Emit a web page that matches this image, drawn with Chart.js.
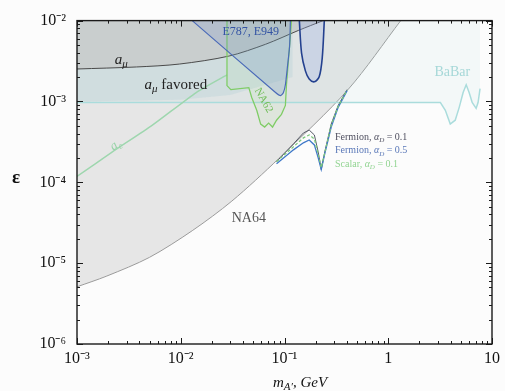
<!DOCTYPE html>
<html lang="en">
<head>
  <meta charset="UTF-8" />
  <title>A' limits</title>
  <script src="https://cdn.jsdelivr.net/npm/chart.js@4.4.1/dist/chart.umd.min.js"></script>
  <style>
    body { margin: 0; background: #fcfcfc; }
  </style>
</head>
<body>
  <canvas id="limits" width="505" height="391"></canvas>

  <script>
    // m_A' in GeV, epsilon dimensionless
    const xTickValues = [0.001, 0.01, 0.1, 1, 10];
    const xTickLabels = ["10⁻³", "10⁻²", "10⁻¹", "1", "10"];
    const yTickValues = [1e-6, 1e-5, 1e-4, 1e-3, 1e-2];
    const yTickLabels = ["10⁻⁶", "10⁻⁵", "10⁻⁴", "10⁻³", "10⁻²"];

    const na64Mass = [0.001, 0.00194, 0.005, 0.0129, 0.0311, 0.0877, 0.409, 1.32];
    const na64Eps = [5.1e-6, 6.93e-6, 1.18e-5, 2.52e-5, 5.86e-5, 1.96e-4, 1.4e-3, 1e-2];

    const amuMass = [0.001, 0.00375, 0.00968, 0.0291, 0.0658, 0.136, 0.236];
    const amuEps = [2.52e-3, 2.67e-3, 2.9e-3, 3.64e-3, 5.1e-3, 7.55e-3, 1e-2];

    const favoredMass = [0.001, 0.01, 0.03, 0.12];
    const favoredEps = [1.0e-3, 1.05e-3, 1.2e-3, 2.0e-3];

    const aeMass = [0.001, 0.00221, 0.00533, 0.0141, 0.0279];
    const aeEps = [1.18e-4, 2.39e-4, 5.09e-4, 1.29e-3, 2.13e-3];

    const babarMass = [0.001, 0.5, 3.18, 3.55, 3.96, 4.42, 4.83, 5.27, 5.64, 6.02, 6.44, 7.03, 7.34, 7.67];
    const babarEps = [9.7e-4, 9.7e-4, 9.7e-4, 7.77e-4, 5.25e-4, 5.86e-4, 8.45e-4, 1.29e-3, 1.61e-3, 1.29e-3, 9.7e-4, 8.22e-4, 9.7e-4, 1.44e-3];

    const e787Mass = [0.0129, 0.082, 0.0916, 0.0977, 0.102, 0.107, 0.112, 0.114];
    const e787Eps = [1e-2, 1.29e-3, 1.18e-3, 1.29e-3, 1.61e-3, 2.75e-3, 4.82e-3, 1e-2];

    const e949Mass = [0.139, 0.146, 0.159, 0.173, 0.194, 0.216, 0.231, 0.242];
    const e949Eps = [1e-2, 3.96e-3, 2.39e-3, 1.9e-3, 1.75e-3, 2.02e-3, 3.44e-3, 1e-2];

    const na62Mass = [0.0279, 0.0279, 0.0304, 0.0453, 0.0483, 0.054, 0.0589, 0.0644, 0.0703, 0.0767, 0.0838, 0.0935, 0.102, 0.1045, 0.109, 0.114, 0.1167];
    const na62Eps = [1e-2, 1.57e-3, 1.4e-3, 1.48e-3, 1.12e-3, 7.77e-4, 5.24e-4, 4.82e-4, 5.39e-4, 4.82e-4, 5.86e-4, 6.93e-4, 8.93e-4, 1.61e-3, 3.16e-3, 6.56e-3, 1e-2];

    const darkMass = [0.0838, 0.122, 0.152, 0.173, 0.194, 0.211, 0.226, 0.247, 0.282, 0.329, 0.401];
    const fermion01 = [1.8e-4, 2.99e-4, 4.07e-4, 4.43e-4, 3.85e-4, 2.39e-4, 1.44e-4, 2.52e-4, 5.25e-4, 8.93e-4, 1.4e-3];
    const fermion05 = [1.7e-4, 2.52e-4, 3.08e-4, 3.34e-4, 2.9e-4, 2.02e-4, 1.44e-4, 2.39e-4, 4.82e-4, 8.45e-4, 1.36e-3];
    const scalar01 = [1.8e-4, 2.75e-4, 3.54e-4, 3.85e-4, 3.44e-4, 2.26e-4, 1.52e-4, 2.45e-4, 5.09e-4, 8.69e-4, 1.38e-3];
  </script>

  <script>
    const pts = (m, e) => m.map((v, i) => ({ x: v, y: e[i] }));

    // text pieces: [text, flags] with "i" italic, "s" subscript, "b" bold
    const legendText = (a) => [["Fermion, ", ""], ["α", "i"], ["D", "is"], [" = " + a, ""]];
    const notes = [
      { m: 0.00231, eps: 3.25e-3, size: 15, color: "#222", align: "left", parts: [["a", "i"], ["μ", "is"]] },
      { m: 0.00448, eps: 1.61e-3, size: 15, color: "#222", align: "left", parts: [["a", "i"], ["μ", "is"], [" favored", ""]] },
      { m: 0.00236, eps: 2.9e-4, size: 13, color: "#98d2a8", angle: -35, parts: [["a", "i"], ["e", "is"]] },
      { m: 0.0473, eps: 7.34e-3, size: 12, color: "#3454a4", parts: [["E787, E949", ""]] },
      { m: 0.0629, eps: 1.03e-3, size: 11, color: "#70bd58", angle: 60, parts: [["NA62", ""]] },
      { m: 4.14, eps: 2.26e-3, size: 14, color: "#a6d8d8", parts: [["BaBar", ""]] },
      { m: 0.0453, eps: 3.54e-5, size: 14, color: "#555", parts: [["NA64", ""]] },
      { m: 0.307, eps: 3.64e-4, size: 10, color: "#505060", align: "left", parts: legendText("0.1") },
      { m: 0.307, eps: 2.45e-4, size: 10, color: "#5a78b8", align: "left", parts: legendText("0.5") },
      { m: 0.307, eps: 1.66e-4, size: 10, color: "#92d492", align: "left", parts: [["Scalar, ", ""], ["α", "i"], ["D", "is"], [" = 0.1", ""]] },
    ];

    function drawText(ctx, parts, x, y, size, color, align, angle) {
      const fontOf = (f) => (f.includes("i") ? "italic " : "") + (f.includes("b") ? "bold " : "") +
        (f.includes("s") ? Math.round(size * 0.7) : size) + 'px "Liberation Serif", serif';
      let w = 0;
      parts.forEach(([t, f]) => { ctx.font = fontOf(f); w += ctx.measureText(t).width; });
      ctx.save();
      ctx.translate(x, y);
      if (angle) ctx.rotate(angle * Math.PI / 180);
      ctx.fillStyle = color;
      ctx.textBaseline = "middle";
      ctx.textAlign = "left";
      let cx = align === "left" ? 0 : -w / 2;
      parts.forEach(([t, f]) => {
        ctx.font = fontOf(f);
        ctx.fillText(t, cx, f.includes("s") ? size * 0.3 : 0);
        cx += ctx.measureText(t).width;
      });
      ctx.restore();
    }

    function logTicks(min, max) {
      const out = [];
      for (let e = Math.round(Math.log10(min)); e < Math.round(Math.log10(max)); e++) {
        for (let k = 1; k < 10; k++) out.push([k * Math.pow(10, e), k === 1]);
      }
      out.push([max, true]);
      return out;
    }

    // frame, inward ticks and the text on the plot
    const framePlugin = {
      id: "framePlugin",
      afterDatasetsDraw(chart) {
        const { ctx, chartArea: a, scales: { x, y } } = chart;
        ctx.save();
        ctx.strokeStyle = "#1a1a1a";
        ctx.lineWidth = 1;
        ctx.beginPath();
        logTicks(x.min, x.max).forEach(([v, major]) => {
          const px = Math.round(x.getPixelForValue(v)) + 0.5;
          const len = major ? 6 : 3;
          ctx.moveTo(px, a.bottom); ctx.lineTo(px, a.bottom - len);
          ctx.moveTo(px, a.top); ctx.lineTo(px, a.top + len);
        });
        logTicks(y.min, y.max).forEach(([v, major]) => {
          const py = Math.round(y.getPixelForValue(v)) + 0.5;
          const len = major ? 6 : 3;
          ctx.moveTo(a.left, py); ctx.lineTo(a.left + len, py);
          ctx.moveTo(a.right, py); ctx.lineTo(a.right - len, py);
        });
        ctx.stroke();
        ctx.lineWidth = 1.4;
        ctx.strokeRect(a.left, a.top, a.right - a.left, a.bottom - a.top);

        notes.forEach((n) => {
          drawText(ctx, n.parts, x.getPixelForValue(n.m), y.getPixelForValue(n.eps),
            n.size, n.color, n.align, n.angle);
        });

        // axis titles
        drawText(ctx, [["ε", "b"]], a.left - 61, y.getPixelForValue(1e-4) - 4, 19, "#111", "center");
        drawText(ctx, [["m", "i"], ["A′", "is"], [", GeV", "i"]], a.left + 196, a.bottom + 39, 15, "#111", "left");
        ctx.restore();
      },
    };

    const line = (label, m, e, style) => Object.assign({
      label: label,
      data: pts(m, e),
      pointRadius: 0,
      borderWidth: 1,
      fill: false,
    }, style);

    const datasets = [
      line("NA64", na64Mass, na64Eps, { borderColor: "#9a9a9a", backgroundColor: "rgba(0,0,0,0.085)", fill: "end", tension: 0.3, order: 10 }),
      line("BaBar", babarMass, babarEps, { borderColor: "#aadcdc", borderWidth: 1.5, backgroundColor: "rgba(160,215,215,0.09)", fill: "end", order: 9 }),
      line("a_mu", amuMass, amuEps, { borderColor: "#4a4a4a", backgroundColor: "rgba(100,103,103,0.18)", fill: "end", tension: 0.3, order: 7 }),
      line("a_mu favored", favoredMass, favoredEps, { borderWidth: 0, borderColor: "rgba(0,0,0,0)", backgroundColor: "rgba(140,190,200,0.18)", fill: 2, order: 8 }),
      line("a_e", aeMass, aeEps, { borderColor: "#9ed6ae", borderWidth: 1.5, tension: 0.2, order: 6 }),
      line("NA62", na62Mass, na62Eps, { borderColor: "#7fcc66", borderWidth: 1.3, backgroundColor: "rgba(150,215,130,0.1)", fill: "end", order: 5 }),
      line("E787, E949", e787Mass, e787Eps, { borderColor: "#4a6ab8", borderWidth: 1.2, backgroundColor: "rgba(100,130,200,0.2)", fill: "end", tension: 0.2, order: 4 }),
      line("E949", e949Mass, e949Eps, { borderColor: "#24418f", borderWidth: 1.6, backgroundColor: "rgba(160,175,230,0.3)", fill: "end", tension: 0.3, order: 3 }),
      line("Fermion 0.1", darkMass, fermion01, { borderColor: "#555a66", order: 2 }),
      line("Fermion 0.5", darkMass, fermion05, { borderColor: "#3f78c8", borderWidth: 1.3, order: 1 }),
      line("Scalar 0.1", darkMass, scalar01, { borderColor: "#7cc87c", borderWidth: 1.3, borderDash: [3, 2], order: 0 }),
    ];

    const tickFont = { family: '"Liberation Serif", serif', size: 16 };

    new Chart(document.getElementById("limits"), {
      type: "line",
      data: { datasets: datasets },
      options: {
        responsive: false,
        animation: false,
        layout: { padding: { top: 17, right: 10, left: 0, bottom: 0 } },
        plugins: { legend: { display: false }, tooltip: { enabled: false } },
        scales: {
          x: {
            type: "logarithmic",
            min: 0.001,
            max: 10,
            grid: { display: false, drawTicks: false },
            border: { display: false },
            afterBuildTicks: (scale) => { scale.ticks = xTickValues.map((v) => ({ value: v })); },
            afterFit: (scale) => { scale.height = 47; },
            ticks: { font: tickFont, color: "#111", padding: 5, autoSkip: false, maxRotation: 0,
              callback: (v, i) => xTickLabels[i] },
          },
          y: {
            type: "logarithmic",
            min: 1e-6,
            max: 1e-2,
            grid: { display: false, drawTicks: false },
            border: { display: false },
            afterBuildTicks: (scale) => { scale.ticks = yTickValues.map((v) => ({ value: v })); },
            afterFit: (scale) => { scale.width = 77; },
            ticks: { font: tickFont, color: "#111", padding: 11, autoSkip: false,
              callback: (v, i) => yTickLabels[i] },
          },
        },
      },
      plugins: [framePlugin],
    });
  </script>
</body>
</html>
